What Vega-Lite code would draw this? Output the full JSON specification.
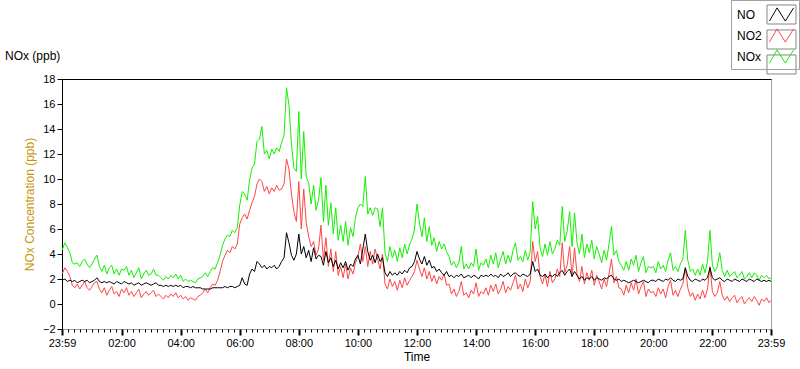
{
  "$schema": "https://vega.github.io/schema/vega-lite/v6.json",
  "width": 709,
  "height": 250,
  "autosize": "none",
  "padding": {"left": 62, "top": 79, "right": 29, "bottom": 40},
  "background": "white",
  "title": {"text": "NOx (ppb)", "anchor": "start", "frame": "group", "dx": -57, "dy": 63, "offset": 0, "fontSize": 12, "fontWeight": "normal", "font": "Liberation Sans", "color": "#000"},
  "data": {"values": [
    {"m":-1,"NO":1.9,"NO2":2.4,"NOx":4.3},{"m":5,"NO":2.0,"NO2":2.9,"NOx":4.9},{"m":10,"NO":1.8,"NO2":2.6,"NOx":4.5},{"m":15,"NO":1.9,"NO2":2.2,"NOx":4.1},{"m":20,"NO":1.8,"NO2":1.5,"NOx":3.3},
    {"m":25,"NO":1.9,"NO2":1.3,"NOx":3.2},{"m":30,"NO":1.7,"NO2":1.6,"NOx":3.3},{"m":35,"NO":1.8,"NO2":1.2,"NOx":3.0},{"m":40,"NO":1.9,"NO2":1.5,"NOx":3.4},{"m":45,"NO":1.8,"NO2":1.8,"NOx":3.6},
    {"m":50,"NO":1.9,"NO2":1.3,"NOx":3.2},{"m":55,"NO":1.7,"NO2":1.1,"NOx":2.9},{"m":60,"NO":1.8,"NO2":1.4,"NOx":3.2},{"m":65,"NO":1.9,"NO2":1.7,"NOx":3.6},{"m":70,"NO":2.1,"NO2":1.8,"NOx":3.9},
    {"m":75,"NO":1.8,"NO2":1.2,"NOx":3.0},{"m":80,"NO":1.7,"NO2":0.9,"NOx":2.6},{"m":85,"NO":1.8,"NO2":1.3,"NOx":3.1},{"m":90,"NO":1.7,"NO2":0.7,"NOx":2.4},{"m":95,"NO":1.8,"NO2":1.1,"NOx":2.9},
    {"m":100,"NO":1.7,"NO2":1.4,"NOx":3.1},{"m":105,"NO":1.6,"NO2":0.8,"NOx":2.4},{"m":110,"NO":1.8,"NO2":1.0,"NOx":2.8},{"m":115,"NO":1.7,"NO2":0.6,"NOx":2.3},{"m":120,"NO":1.6,"NO2":1.2,"NOx":2.8},
    {"m":125,"NO":1.8,"NO2":0.9,"NOx":2.7},{"m":130,"NO":1.7,"NO2":1.3,"NOx":3.0},{"m":135,"NO":1.6,"NO2":0.7,"NOx":2.3},{"m":140,"NO":1.7,"NO2":1.0,"NOx":2.7},{"m":145,"NO":1.5,"NO2":0.6,"NOx":2.1},
    {"m":150,"NO":1.6,"NO2":0.9,"NOx":2.5},{"m":155,"NO":1.7,"NO2":1.2,"NOx":2.9},{"m":160,"NO":1.5,"NO2":0.5,"NOx":2.0},{"m":165,"NO":1.6,"NO2":0.8,"NOx":2.4},{"m":170,"NO":1.7,"NO2":1.0,"NOx":2.7},
    {"m":175,"NO":1.6,"NO2":0.7,"NOx":2.3},{"m":180,"NO":1.5,"NO2":0.9,"NOx":2.4},{"m":185,"NO":1.6,"NO2":1.1,"NOx":2.8},{"m":190,"NO":1.7,"NO2":0.6,"NOx":2.3},{"m":195,"NO":1.5,"NO2":0.8,"NOx":2.3},
    {"m":200,"NO":1.5,"NO2":0.6,"NOx":2.1},{"m":205,"NO":1.4,"NO2":0.4,"NOx":1.9},{"m":210,"NO":1.5,"NO2":0.7,"NOx":2.2},{"m":215,"NO":1.4,"NO2":0.5,"NOx":2.0},{"m":220,"NO":1.5,"NO2":0.8,"NOx":2.3},
    {"m":225,"NO":1.4,"NO2":0.6,"NOx":2.1},{"m":230,"NO":1.5,"NO2":0.9,"NOx":2.4},{"m":235,"NO":1.4,"NO2":0.5,"NOx":2.0},{"m":240,"NO":1.5,"NO2":0.7,"NOx":2.3},{"m":245,"NO":1.3,"NO2":0.4,"NOx":1.8},
    {"m":250,"NO":1.4,"NO2":0.6,"NOx":2.0},{"m":255,"NO":1.4,"NO2":0.3,"NOx":1.8},{"m":260,"NO":1.3,"NO2":0.5,"NOx":1.9},{"m":265,"NO":1.4,"NO2":0.4,"NOx":1.8},{"m":270,"NO":1.3,"NO2":0.3,"NOx":1.7},
    {"m":275,"NO":1.3,"NO2":0.6,"NOx":2.0},{"m":280,"NO":1.3,"NO2":0.7,"NOx":2.1},{"m":285,"NO":1.2,"NO2":0.9,"NOx":2.2},{"m":290,"NO":1.2,"NO2":1.2,"NOx":2.5},{"m":295,"NO":1.2,"NO2":0.9,"NOx":2.2},
    {"m":300,"NO":1.2,"NO2":1.3,"NOx":2.6},{"m":305,"NO":1.3,"NO2":1.6,"NOx":2.9},{"m":310,"NO":1.3,"NO2":1.5,"NOx":2.8},{"m":315,"NO":1.3,"NO2":1.9,"NOx":3.3},{"m":320,"NO":1.3,"NO2":2.6,"NOx":3.9},
    {"m":325,"NO":1.3,"NO2":3.4,"NOx":4.7},{"m":330,"NO":1.4,"NO2":3.9,"NOx":5.2},{"m":335,"NO":1.3,"NO2":4.3,"NOx":5.5},{"m":340,"NO":1.4,"NO2":4.1,"NOx":5.4},{"m":345,"NO":1.4,"NO2":4.6,"NOx":5.9},
    {"m":350,"NO":1.3,"NO2":4.4,"NOx":5.7},{"m":355,"NO":1.4,"NO2":4.8,"NOx":6.1},{"m":360,"NO":1.5,"NO2":6.4,"NOx":7.9},{"m":365,"NO":2.1,"NO2":6.9,"NOx":9.0},{"m":370,"NO":1.6,"NO2":7.2,"NOx":8.8},
    {"m":375,"NO":1.5,"NO2":6.8,"NOx":8.3},{"m":380,"NO":2.4,"NO2":7.5,"NOx":9.9},{"m":385,"NO":2.8,"NO2":8.1,"NOx":10.9},{"m":390,"NO":2.6,"NO2":8.6,"NOx":11.2},{"m":395,"NO":3.4,"NO2":9.6,"NOx":13.0},
    {"m":400,"NO":3.2,"NO2":10.0,"NOx":13.2},{"m":405,"NO":2.9,"NO2":9.8,"NOx":14.2},{"m":410,"NO":3.1,"NO2":9.0,"NOx":12.0},{"m":415,"NO":2.8,"NO2":9.4,"NOx":12.3},{"m":420,"NO":3.0,"NO2":8.8,"NOx":11.6},
    {"m":425,"NO":2.9,"NO2":9.3,"NOx":12.4},{"m":430,"NO":3.1,"NO2":9.0,"NOx":12.0},{"m":435,"NO":2.8,"NO2":9.5,"NOx":12.5},{"m":440,"NO":3.0,"NO2":9.1,"NOx":12.2},{"m":445,"NO":3.4,"NO2":9.2,"NOx":12.9},
    {"m":450,"NO":3.7,"NO2":9.6,"NOx":13.5},{"m":455,"NO":5.7,"NO2":11.6,"NOx":17.3},{"m":460,"NO":4.9,"NO2":10.8,"NOx":15.9},{"m":465,"NO":3.9,"NO2":8.8,"NOx":12.8},{"m":470,"NO":3.5,"NO2":7.4,"NOx":10.9},
    {"m":475,"NO":4.0,"NO2":6.6,"NOx":10.6},{"m":480,"NO":5.6,"NO2":9.8,"NOx":15.4},{"m":485,"NO":4.0,"NO2":6.0,"NOx":10.0},{"m":490,"NO":4.6,"NO2":9.2,"NOx":13.8},{"m":495,"NO":3.7,"NO2":6.5,"NOx":10.2},
    {"m":500,"NO":4.3,"NO2":5.4,"NOx":9.7},{"m":505,"NO":3.4,"NO2":4.6,"NOx":8.0},{"m":510,"NO":4.5,"NO2":5.0,"NOx":9.5},{"m":515,"NO":3.6,"NO2":3.9,"NOx":7.5},{"m":520,"NO":3.9,"NO2":4.4,"NOx":8.3},
    {"m":525,"NO":3.8,"NO2":6.3,"NOx":10.1},{"m":530,"NO":3.1,"NO2":3.5,"NOx":6.6},{"m":535,"NO":4.2,"NO2":5.3,"NOx":9.5},{"m":540,"NO":3.3,"NO2":3.0,"NOx":6.3},{"m":545,"NO":3.7,"NO2":4.4,"NOx":8.1},
    {"m":550,"NO":3.0,"NO2":2.6,"NOx":5.6},{"m":555,"NO":3.5,"NO2":4.2,"NOx":7.7},{"m":560,"NO":2.8,"NO2":2.3,"NOx":5.1},{"m":565,"NO":3.3,"NO2":3.0,"NOx":6.3},{"m":570,"NO":2.9,"NO2":2.1,"NOx":5.0},
    {"m":575,"NO":3.4,"NO2":3.2,"NOx":6.6},{"m":580,"NO":2.7,"NO2":2.0,"NOx":4.7},{"m":585,"NO":3.2,"NO2":2.9,"NOx":6.1},{"m":590,"NO":3.0,"NO2":2.4,"NOx":5.4},{"m":595,"NO":3.6,"NO2":3.3,"NOx":6.9},
    {"m":600,"NO":3.9,"NO2":3.8,"NOx":7.7},{"m":605,"NO":3.2,"NO2":4.8,"NOx":8.0},{"m":610,"NO":4.4,"NO2":3.4,"NOx":7.8},{"m":615,"NO":5.6,"NO2":4.6,"NOx":10.2},{"m":620,"NO":4.2,"NO2":3.0,"NOx":7.2},
    {"m":625,"NO":3.5,"NO2":4.2,"NOx":7.7},{"m":630,"NO":3.9,"NO2":3.2,"NOx":7.1},{"m":635,"NO":3.3,"NO2":4.4,"NOx":7.7},{"m":640,"NO":4.0,"NO2":3.6,"NOx":7.6},{"m":645,"NO":3.4,"NO2":2.8,"NOx":6.2},
    {"m":650,"NO":3.7,"NO2":4.0,"NOx":7.7},{"m":655,"NO":2.5,"NO2":1.6,"NOx":4.1},{"m":660,"NO":2.2,"NO2":1.2,"NOx":3.4},{"m":665,"NO":2.6,"NO2":2.0,"NOx":4.6},{"m":670,"NO":2.3,"NO2":1.4,"NOx":3.7},
    {"m":675,"NO":2.5,"NO2":1.8,"NOx":4.3},{"m":680,"NO":2.3,"NO2":1.1,"NOx":3.4},{"m":685,"NO":2.6,"NO2":1.9,"NOx":4.5},{"m":690,"NO":2.4,"NO2":1.3,"NOx":3.7},{"m":695,"NO":2.7,"NO2":2.1,"NOx":4.8},
    {"m":700,"NO":2.5,"NO2":1.5,"NOx":4.0},{"m":705,"NO":2.9,"NO2":1.9,"NOx":4.8},{"m":710,"NO":3.0,"NO2":2.2,"NOx":5.2},{"m":715,"NO":3.4,"NO2":2.6,"NOx":6.0},{"m":720,"NO":4.2,"NO2":3.5,"NOx":8.0},
    {"m":725,"NO":3.6,"NO2":2.8,"NOx":6.5},{"m":730,"NO":3.2,"NO2":2.2,"NOx":5.4},{"m":735,"NO":3.8,"NO2":2.9,"NOx":6.9},{"m":740,"NO":3.1,"NO2":2.0,"NOx":5.0},{"m":745,"NO":3.5,"NO2":2.6,"NOx":6.2},
    {"m":750,"NO":2.9,"NO2":1.8,"NOx":4.7},{"m":755,"NO":3.0,"NO2":2.3,"NOx":5.3},{"m":760,"NO":2.6,"NO2":1.6,"NOx":4.2},{"m":765,"NO":2.8,"NO2":2.2,"NOx":5.0},{"m":770,"NO":2.5,"NO2":1.9,"NOx":4.4},
    {"m":775,"NO":2.3,"NO2":2.4,"NOx":4.8},{"m":780,"NO":2.6,"NO2":1.5,"NOx":4.2},{"m":785,"NO":2.2,"NO2":1.6,"NOx":3.8},{"m":790,"NO":2.3,"NO2":0.8,"NOx":3.1},{"m":795,"NO":2.1,"NO2":1.2,"NOx":3.4},
    {"m":800,"NO":2.3,"NO2":0.6,"NOx":2.9},{"m":805,"NO":2.2,"NO2":1.0,"NOx":3.3},{"m":810,"NO":2.4,"NO2":1.8,"NOx":4.6},{"m":815,"NO":2.1,"NO2":0.7,"NOx":2.8},{"m":820,"NO":2.2,"NO2":0.9,"NOx":3.2},
    {"m":825,"NO":2.3,"NO2":0.5,"NOx":2.8},{"m":830,"NO":2.1,"NO2":1.1,"NOx":3.3},{"m":835,"NO":2.3,"NO2":0.8,"NOx":3.0},{"m":840,"NO":2.2,"NO2":1.7,"NOx":4.4},{"m":845,"NO":2.0,"NO2":0.6,"NOx":2.7},
    {"m":850,"NO":2.3,"NO2":1.0,"NOx":3.3},{"m":855,"NO":2.2,"NO2":0.8,"NOx":3.1},{"m":860,"NO":2.3,"NO2":1.3,"NOx":3.6},{"m":865,"NO":2.2,"NO2":0.7,"NOx":2.9},{"m":870,"NO":2.4,"NO2":1.5,"NOx":3.9},
    {"m":875,"NO":2.2,"NO2":1.0,"NOx":3.2},{"m":880,"NO":2.3,"NO2":1.6,"NOx":4.1},{"m":885,"NO":2.1,"NO2":0.8,"NOx":2.9},{"m":890,"NO":2.4,"NO2":1.2,"NOx":3.6},{"m":895,"NO":2.2,"NO2":1.8,"NOx":4.2},
    {"m":900,"NO":2.3,"NO2":0.9,"NOx":3.2},{"m":905,"NO":2.5,"NO2":1.4,"NOx":3.9},{"m":910,"NO":2.2,"NO2":1.1,"NOx":3.3},{"m":915,"NO":2.4,"NO2":1.7,"NOx":4.3},{"m":920,"NO":2.5,"NO2":2.3,"NOx":4.9},
    {"m":925,"NO":2.3,"NO2":1.2,"NOx":3.5},{"m":930,"NO":2.2,"NO2":1.6,"NOx":3.8},{"m":935,"NO":2.4,"NO2":1.0,"NOx":3.4},{"m":940,"NO":2.3,"NO2":2.0,"NOx":4.3},{"m":945,"NO":2.2,"NO2":1.3,"NOx":3.5},
    {"m":950,"NO":2.4,"NO2":1.8,"NOx":4.2},{"m":955,"NO":3.4,"NO2":5.0,"NOx":8.2},{"m":960,"NO":2.6,"NO2":3.4,"NOx":6.0},{"m":965,"NO":2.8,"NO2":4.2,"NOx":7.0},{"m":970,"NO":2.3,"NO2":2.2,"NOx":4.5},
    {"m":975,"NO":2.2,"NO2":1.6,"NOx":3.8},{"m":980,"NO":2.4,"NO2":2.4,"NOx":4.8},{"m":985,"NO":2.1,"NO2":1.4,"NOx":3.9},{"m":990,"NO":2.3,"NO2":2.6,"NOx":5.0},{"m":995,"NO":2.2,"NO2":1.7,"NOx":4.0},
    {"m":1000,"NO":2.4,"NO2":2.0,"NOx":4.4},{"m":1005,"NO":2.2,"NO2":2.8,"NOx":5.1},{"m":1010,"NO":2.5,"NO2":2.2,"NOx":4.7},{"m":1015,"NO":2.7,"NO2":4.9,"NOx":7.8},{"m":1020,"NO":2.3,"NO2":2.5,"NOx":5.0},
    {"m":1025,"NO":2.6,"NO2":3.1,"NOx":5.8},{"m":1030,"NO":2.8,"NO2":4.6,"NOx":7.4},{"m":1035,"NO":2.2,"NO2":2.2,"NOx":4.6},{"m":1040,"NO":2.6,"NO2":4.5,"NOx":7.3},{"m":1045,"NO":2.3,"NO2":2.4,"NOx":4.9},
    {"m":1050,"NO":2.0,"NO2":1.8,"NOx":4.0},{"m":1055,"NO":2.2,"NO2":3.0,"NOx":5.6},{"m":1060,"NO":1.9,"NO2":1.6,"NOx":3.7},{"m":1065,"NO":2.1,"NO2":2.5,"NOx":4.8},{"m":1070,"NO":2.0,"NO2":1.9,"NOx":4.1},
    {"m":1075,"NO":2.2,"NO2":2.7,"NOx":5.1},{"m":1080,"NO":1.9,"NO2":1.5,"NOx":3.6},{"m":1085,"NO":2.1,"NO2":2.3,"NOx":4.6},{"m":1090,"NO":2.0,"NO2":1.8,"NOx":4.0},{"m":1095,"NO":1.9,"NO2":1.2,"NOx":3.3},
    {"m":1100,"NO":2.1,"NO2":2.0,"NOx":4.3},{"m":1105,"NO":2.0,"NO2":1.4,"NOx":3.5},{"m":1110,"NO":2.2,"NO2":2.4,"NOx":4.8},{"m":1115,"NO":2.3,"NO2":3.6,"NOx":6.2},{"m":1120,"NO":2.0,"NO2":1.7,"NOx":3.9},
    {"m":1125,"NO":1.9,"NO2":2.2,"NOx":4.3},{"m":1130,"NO":2.0,"NO2":1.3,"NOx":3.4},{"m":1135,"NO":1.8,"NO2":1.2,"NOx":3.1},{"m":1140,"NO":1.9,"NO2":0.7,"NOx":2.7},{"m":1145,"NO":1.8,"NO2":1.5,"NOx":3.4},
    {"m":1150,"NO":1.7,"NO2":0.9,"NOx":2.7},{"m":1155,"NO":1.8,"NO2":1.7,"NOx":3.6},{"m":1160,"NO":1.9,"NO2":1.1,"NOx":3.1},{"m":1165,"NO":1.8,"NO2":2.0,"NOx":3.9},{"m":1170,"NO":1.7,"NO2":0.8,"NOx":2.6},
    {"m":1175,"NO":1.8,"NO2":1.4,"NOx":3.3},{"m":1180,"NO":1.9,"NO2":1.8,"NOx":3.8},{"m":1185,"NO":1.8,"NO2":0.6,"NOx":2.5},{"m":1190,"NO":1.7,"NO2":1.2,"NOx":3.0},{"m":1195,"NO":1.9,"NO2":0.9,"NOx":2.9},
    {"m":1200,"NO":1.9,"NO2":1.0,"NOx":3.0},{"m":1205,"NO":1.8,"NO2":0.6,"NOx":2.5},{"m":1210,"NO":2.0,"NO2":1.3,"NOx":3.4},{"m":1215,"NO":1.9,"NO2":0.8,"NOx":2.8},{"m":1220,"NO":1.8,"NO2":1.2,"NOx":3.1},
    {"m":1225,"NO":2.0,"NO2":0.5,"NOx":2.6},{"m":1230,"NO":1.9,"NO2":1.4,"NOx":3.5},{"m":1235,"NO":2.1,"NO2":1.9,"NOx":4.1},{"m":1240,"NO":1.9,"NO2":0.7,"NOx":2.7},{"m":1245,"NO":1.8,"NO2":1.1,"NOx":3.0},
    {"m":1250,"NO":2.0,"NO2":0.6,"NOx":2.6},{"m":1255,"NO":1.9,"NO2":1.2,"NOx":3.2},{"m":1260,"NO":2.0,"NO2":1.6,"NOx":3.6},{"m":1265,"NO":2.9,"NO2":2.9,"NOx":5.9},{"m":1270,"NO":2.2,"NO2":1.3,"NOx":3.5},
    {"m":1275,"NO":1.9,"NO2":0.6,"NOx":2.6},{"m":1280,"NO":1.8,"NO2":0.9,"NOx":2.8},{"m":1285,"NO":2.0,"NO2":0.3,"NOx":2.3},{"m":1290,"NO":1.9,"NO2":0.8,"NOx":2.8},{"m":1295,"NO":1.8,"NO2":0.4,"NOx":2.3},
    {"m":1300,"NO":2.0,"NO2":1.1,"NOx":3.2},{"m":1305,"NO":1.9,"NO2":0.5,"NOx":2.5},{"m":1310,"NO":2.1,"NO2":1.2,"NOx":3.4},{"m":1315,"NO":2.9,"NO2":3.0,"NOx":5.9},{"m":1320,"NO":2.1,"NO2":1.0,"NOx":3.1},
    {"m":1325,"NO":1.9,"NO2":0.6,"NOx":2.6},{"m":1330,"NO":2.0,"NO2":0.9,"NOx":3.0},{"m":1335,"NO":2.1,"NO2":1.8,"NOx":4.1},{"m":1340,"NO":1.9,"NO2":0.7,"NOx":2.7},{"m":1345,"NO":1.8,"NO2":0.3,"NOx":2.2},
    {"m":1350,"NO":2.0,"NO2":0.6,"NOx":2.7},{"m":1355,"NO":1.9,"NO2":0.2,"NOx":2.2},{"m":1360,"NO":1.8,"NO2":0.5,"NOx":2.4},{"m":1365,"NO":2.0,"NO2":0.7,"NOx":2.6},{"m":1370,"NO":1.9,"NO2":0.1,"NOx":2.1},
    {"m":1375,"NO":1.8,"NO2":0.4,"NOx":2.3},{"m":1380,"NO":2.0,"NO2":0.6,"NOx":2.6},{"m":1385,"NO":1.9,"NO2":0.0,"NOx":2.0},{"m":1390,"NO":1.8,"NO2":0.3,"NOx":2.2},{"m":1395,"NO":2.0,"NO2":0.5,"NOx":2.5},
    {"m":1400,"NO":1.9,"NO2":0.2,"NOx":2.1},{"m":1405,"NO":1.8,"NO2":0.6,"NOx":2.5},{"m":1410,"NO":2.0,"NO2":0.3,"NOx":2.3},{"m":1415,"NO":1.9,"NO2":-0.1,"NOx":1.9},{"m":1420,"NO":1.8,"NO2":0.4,"NOx":2.3},
    {"m":1425,"NO":1.9,"NO2":0.2,"NOx":2.1},{"m":1430,"NO":1.8,"NO2":0.5,"NOx":2.3},{"m":1435,"NO":1.9,"NO2":0.1,"NOx":2.0},{"m":1439,"NO":1.8,"NO2":0.3,"NOx":2.1}
  ]},
  "transform": [{"fold": ["NOx", "NO2", "NO"], "as": ["series", "ppb"]}],
  "layer": [
    {
      "transform": [{"filter": "false"}],
      "mark": {"type": "point", "filled": true},
      "encoding": {
        "x": {"field": "m", "type": "quantitative", "scale": {"domain": [-1, 1439], "nice": false, "zero": false},
              "axis": {"orient": "top", "ticks": false, "labels": false, "grid": false, "domain": true, "domainColor": "#000", "title": null}},
        "y": {"field": "ppb", "type": "quantitative", "scale": {"domain": [-2, 18], "nice": false},
              "axis": {"values": [-2,0,2,4,6,8,10,12,14,16,18], "title": "NOx Concentration (ppb)", "grid": false,
                       "domainColor": "#000", "tickColor": "#000", "tickSize": 5, "labelPadding": 2,
                       "labelFont": "Liberation Sans", "labelFontSize": 11, "labelColor": "#000",
                       "titleFont": "Liberation Sans", "titleFontSize": 12, "titleFontWeight": "normal", "titleColor": "#c8960a", "titlePadding": 6}},
        "fill": {"field": "series", "type": "nominal",
                 "scale": {"domain": ["NO", "NO2", "NOx"], "range": ["#ffffff", "#ffffff", "#ffffff"]},
                 "legend": {"orient": "none", "legendX": 669, "legendY": -79, "title": null, "padding": 3,
                            "symbolType": "M-1.318,-0.864H1.318V0.864H-1.318Z", "symbolSize": 484,
                            "symbolStrokeColor": "#555555", "symbolStrokeWidth": 1, "symbolFillColor": "#ffffff",
                            "symbolOffset": 36, "labelOffset": -56, "rowPadding": 0, "labelExpr": "''",
                            "labelFont": "Liberation Sans", "labelFontSize": 12}}
      }
    },
    {
      "mark": {"type": "line", "strokeWidth": 1, "clip": true},
      "encoding": {
        "x": {"field": "m", "type": "quantitative", "scale": {"domain": [-1, 1439], "nice": false, "zero": false},
              "axis": {"orient": "bottom", "title": "Time", "grid": false, "domain": false,
                       "values": [-1,12,24,36,48,60,72,84,96,108,120,132,144,156,168,180,192,204,216,228,240,252,264,276,288,300,312,324,336,348,360,372,384,396,408,420,432,444,456,468,480,492,504,516,528,540,552,564,576,588,600,612,624,636,648,660,672,684,696,708,720,732,744,756,768,780,792,804,816,828,840,852,864,876,888,900,912,924,936,948,960,972,984,996,1008,1020,1032,1044,1056,1068,1080,1092,1104,1116,1128,1140,1152,1164,1176,1188,1200,1212,1224,1236,1248,1260,1272,1284,1296,1308,1320,1332,1344,1356,1368,1380,1392,1404,1416,1428,1439],
                       "labelExpr": "datum.value < 0 || datum.value > 1430 ? '23:59' : (datum.value % 120 === 0 ? format(datum.value / 60, '02d') + ':00' : '')",
                       "tickSize": {"condition": {"test": "datum.value % 120 === 0 || datum.value < 0 || datum.value > 1430", "value": 6}, "value": 3},
                       "tickWidth": {"condition": {"test": "datum.value % 120 === 0 || datum.value < 0 || datum.value > 1430", "value": 2}, "value": 1},
                       "tickColor": "#000", "labelOverlap": false, "labelFlush": false, "labelPadding": 2,
                       "labelFont": "Liberation Sans", "labelFontSize": 11, "labelColor": "#000",
                       "titleFont": "Liberation Sans", "titleFontSize": 12, "titleFontWeight": "normal", "titleColor": "#000", "titlePadding": 3}},
        "y": {"field": "ppb", "type": "quantitative", "scale": {"domain": [-2, 18], "nice": false},
              "axis": {"values": [-2,0,2,4,6,8,10,12,14,16,18], "title": "NOx Concentration (ppb)", "grid": false,
                       "domainColor": "#000", "tickColor": "#000", "tickSize": 5, "labelPadding": 2,
                       "labelFont": "Liberation Sans", "labelFontSize": 11, "labelColor": "#000",
                       "titleFont": "Liberation Sans", "titleFontSize": 12, "titleFontWeight": "normal", "titleColor": "#c8960a", "titlePadding": 6}},
        "stroke": {"field": "series", "type": "nominal",
                   "scale": {"range": ["#000000", "#ff4545", "#14f000"]},
                   "legend": {"orient": "none", "legendX": 669, "legendY": -79, "title": null, "padding": 3,
                              "strokeColor": "#a0a0a0",
                              "symbolType": "M-1.1,0.6L-0.4,-0.6L0.35,0.6L1.1,-0.6", "symbolSize": 484,
                              "symbolStrokeWidth": 1, "symbolFillColor": "transparent",
                              "symbolOffset": 36, "labelOffset": -56, "rowPadding": 0,
                              "labelFont": "Liberation Sans", "labelFontSize": 12, "labelColor": "#000"}}
      }
    }
  ],
  "resolve": {"axis": {"x": "independent"}},
  "config": {"view": {"stroke": "#a0a0a0"}}
}
